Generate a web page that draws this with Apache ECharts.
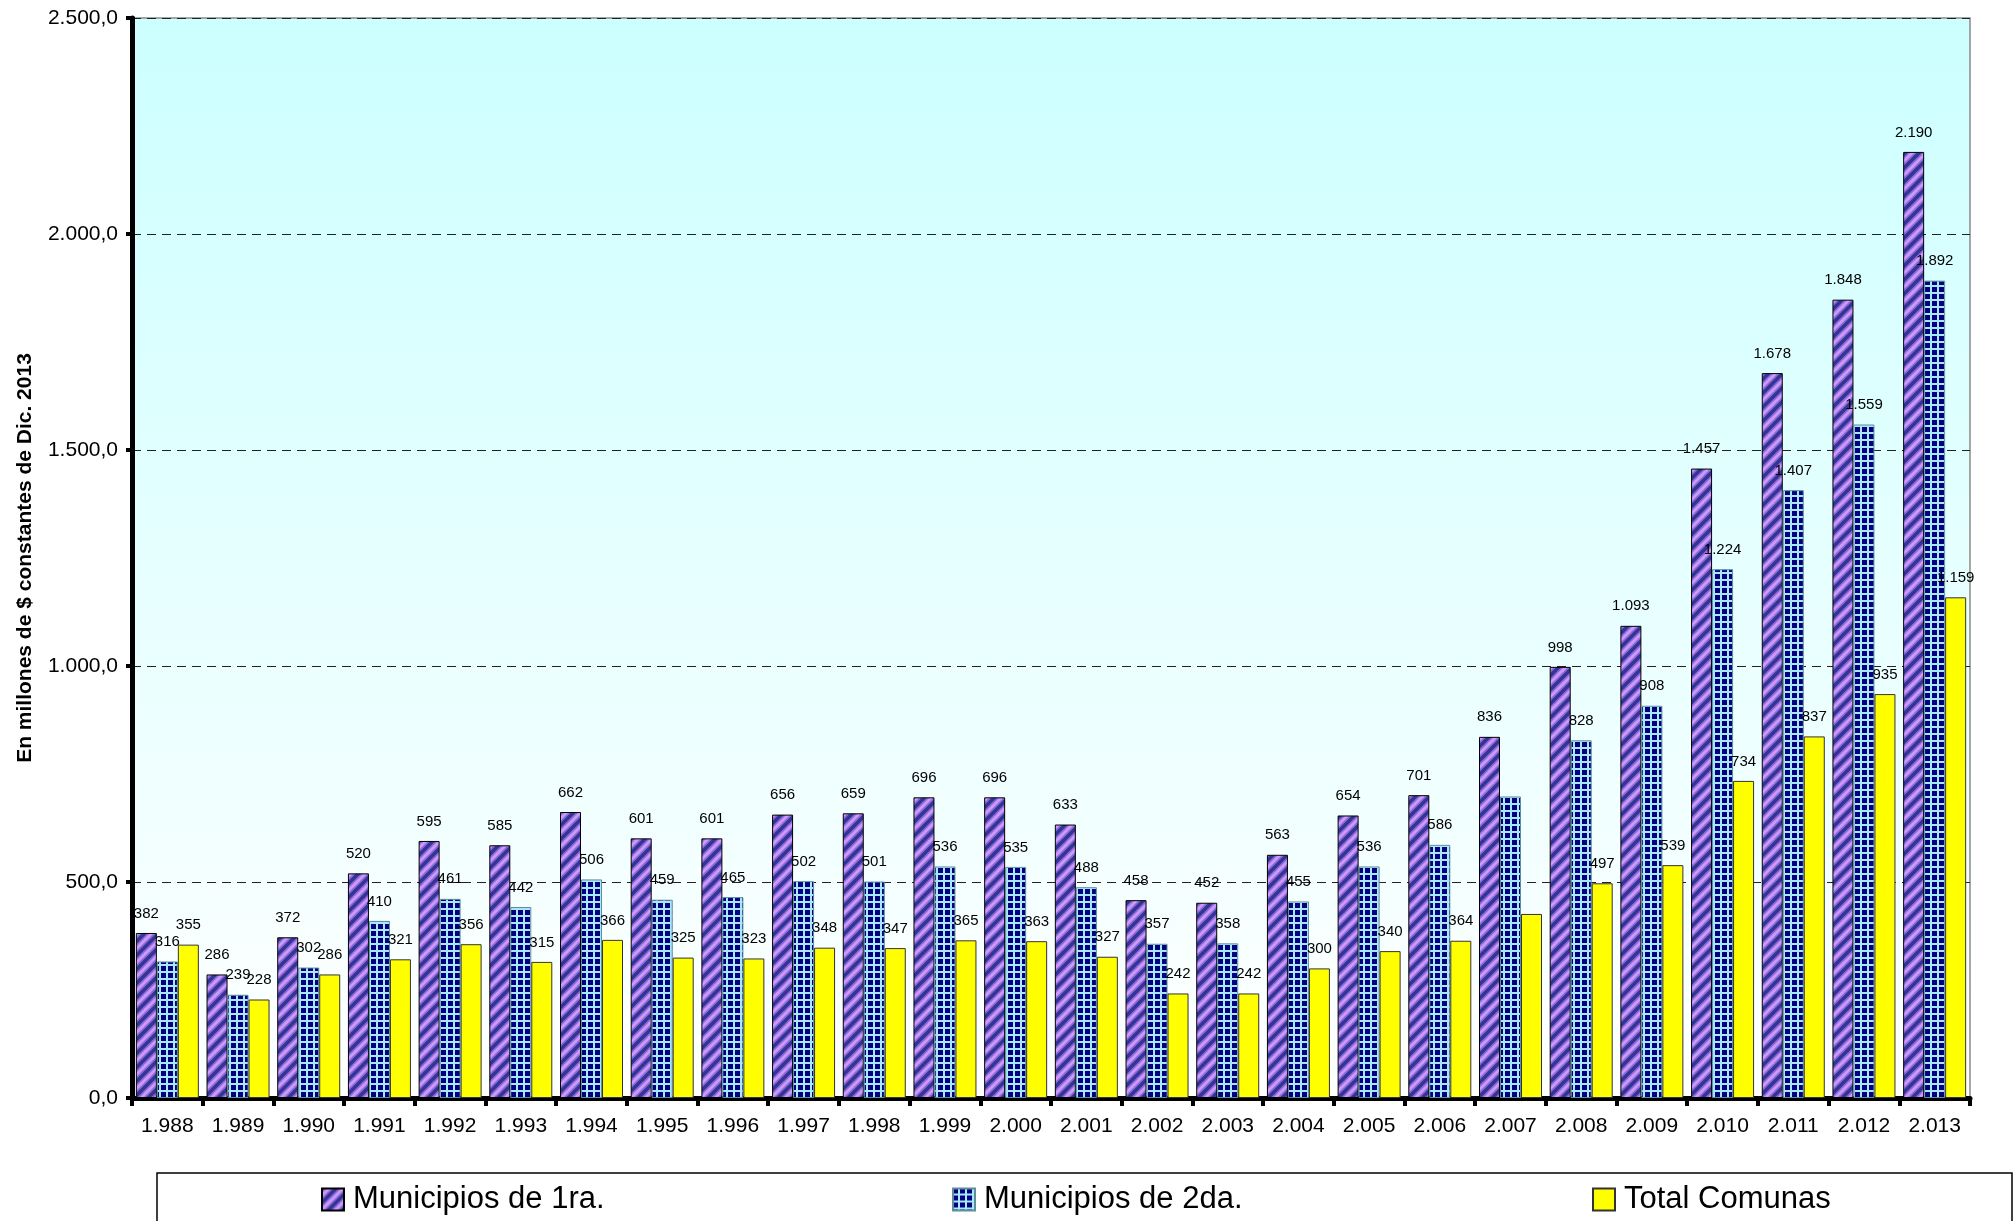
<!DOCTYPE html>
<html>
<head>
<meta charset="utf-8">
<script src="https://cdn.jsdelivr.net/npm/echarts@6/dist/echarts.min.js"></script>
<style>html,body{margin:0;padding:0;background:#fff}#c{width:2015px;height:1221px}</style>
</head>
<body>
<div id="c"></div>
<script>
const years = ['1.988','1.989','1.990','1.991','1.992','1.993','1.994','1.995','1.996','1.997','1.998','1.999','2.000','2.001','2.002','2.003','2.004','2.005','2.006','2.007','2.008','2.009','2.010','2.011','2.012','2.013'];
const muni1 = [382,286,372,520,595,585,662,601,601,656,659,696,696,633,458,452,563,654,701,836,998,1093,1457,1678,1848,2190];
const muni2 = [316,239,302,410,461,442,506,459,465,502,501,536,535,488,357,358,455,536,586,698,828,908,1224,1407,1559,1892];
const comunas = [355,228,286,321,356,315,366,325,323,348,347,365,363,327,242,242,300,340,364,426,497,539,734,837,935,1159];
const seriesNames = ['Municipios de 1ra.','Municipios de 2da.','Total Comunas'];
const unlabeledYears = ['2.007'];
const yTickValues = [0,500,1000,1500,2000,2500];

const FONT = "'Liberation Sans', Arial, sans-serif";

function fmt(v){ return String(v).replace(/\B(?=(\d{3})+(?!\d))/g,'.'); }

function stripeTile(){
  const s = 14, c = document.createElement('canvas');
  c.width = s; c.height = s;
  const x = c.getContext('2d');
  x.fillStyle = '#CC99FF'; x.fillRect(0,0,s,s);
  [-s,0,s].forEach(k=>{
    x.strokeStyle = 'rgba(60,50,150,0.45)'; x.lineWidth = 7;
    x.beginPath(); x.moveTo(k-2, s+2); x.lineTo(k+s+2, -2); x.stroke();
  });
  [-s,0,s].forEach(k=>{
    x.strokeStyle = '#333399'; x.lineWidth = 3.5;
    x.beginPath(); x.moveTo(k-2, s+2); x.lineTo(k+s+2, -2); x.stroke();
  });
  return c;
}
function gridTile(){
  const s = 7, c = document.createElement('canvas');
  c.width = s; c.height = s;
  const x = c.getContext('2d');
  x.fillStyle = '#A8E8FF'; x.fillRect(0,0,s,s);
  x.fillStyle = '#000080'; x.fillRect(0,0,5,5);
  return c;
}
const stripePattern = {image: stripeTile(), repeat: 'repeat'};
const gridPattern = {image: gridTile(), repeat: 'repeat'};

function mkData(arr, hide){
  return arr.map((v,i)=> (hide && unlabeledYears.includes(years[i])) ? {value:v, label:{show:false}} : v);
}

const labelCfg = {show:true, position:'top', distance:12, color:'#000', fontSize:15, fontFamily:FONT, formatter:p=>fmt(p.value)};
const legendText = {fontSize:31, fontFamily:FONT, color:'#000', padding:[0,0,0,4]};

const chart = echarts.init(document.getElementById('c'), null, {renderer:'canvas'});
chart.setOption({
  animation:false,
  textStyle:{fontFamily:FONT},
  grid:{left:132, right:45, top:18, bottom:123, show:true,
    borderColor:'#8a8a8a', borderWidth:1.5,
    backgroundColor:new echarts.graphic.LinearGradient(0,0,0,1,[{offset:0,color:'#CCFFFF'},{offset:1,color:'#FFFFFF'}])},
  legend:[
    {data:[seriesNames[0]], left:321, top:1184, padding:0, icon:'rect', itemWidth:22, itemHeight:22, textStyle:legendText},
    {data:[seriesNames[1]], left:952, top:1184, padding:0, icon:'rect', itemWidth:22, itemHeight:22, textStyle:legendText},
    {data:[seriesNames[2]], left:1592, top:1184, padding:0, icon:'rect', itemWidth:22, itemHeight:22, textStyle:legendText}
  ],
  graphic:[{type:'rect', shape:{x:157, y:1173, width:1855, height:70}, style:{fill:'none', stroke:'#000', lineWidth:1.5}, z:-1}],
  xAxis:{type:'category', data:years, boundaryGap:true,
    axisLine:{lineStyle:{color:'#000', width:5}},
    axisTick:{show:true, length:8, lineStyle:{color:'#000', width:4}},
    axisLabel:{fontSize:21, color:'#000', margin:18, fontFamily:FONT},
    splitLine:{show:false}},
  yAxis:{type:'value', min:0, max:2500, interval:500,
    name:'En millones de $ constantes de Dic. 2013', nameLocation:'middle', nameGap:96,
    nameTextStyle:{fontSize:21, fontWeight:'bold', color:'#000', fontFamily:FONT},
    axisLine:{show:true, lineStyle:{color:'#000', width:5}},
    axisTick:{show:true, length:6, lineStyle:{color:'#000', width:4}},
    axisLabel:{fontSize:21, color:'#000', margin:14, fontFamily:FONT,
      formatter:v=> yTickValues.includes(v) ? fmt(v)+',0' : ''},
    splitLine:{show:true, lineStyle:{color:'#222', width:1, type:[9,6]}}},
  series:[
    {name:seriesNames[0], type:'bar', data:mkData(muni1,false), barWidth:21, barGap:'0%',
      itemStyle:{color:stripePattern, borderColor:'#000', borderWidth:1}, label:labelCfg},
    {name:seriesNames[1], type:'bar', data:mkData(muni2,true), barWidth:21, barGap:'0%',
      itemStyle:{color:gridPattern, borderColor:'#5f8f99', borderWidth:1}, label:labelCfg},
    {name:seriesNames[2], type:'bar', data:mkData(comunas,true), barWidth:21, barGap:'0%',
      itemStyle:{color:'#FFFF00', borderColor:'#333', borderWidth:1}, label:labelCfg}
  ]
});
</script>
</body>
</html>
